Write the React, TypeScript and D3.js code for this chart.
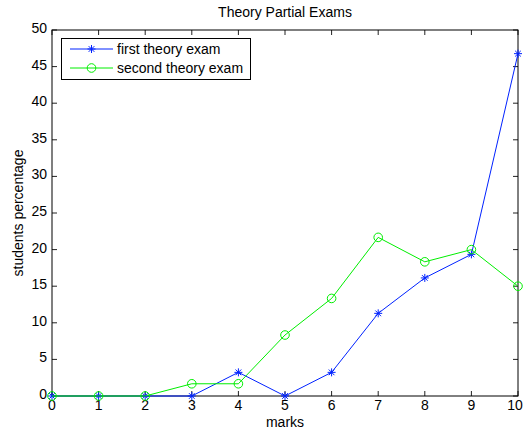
import React from 'react'
import * as d3 from 'd3'

// marks 0..10
const marks = [0, 1, 2, 3, 4, 5, 6, 7, 8, 9, 10]
const firstExam = [0, 0, 0, 0, 3.23, 0, 3.23, 11.29, 16.13, 19.35, 46.77]
const secondExam = [0, 0, 0, 1.67, 1.67, 8.33, 13.33, 21.67, 18.33, 20, 15]
const yTicks = [0, 5, 10, 15, 20, 25, 30, 35, 40, 45, 50]
const seriesNames = ['first theory exam', 'second theory exam']

const W = 524
const H = 429
const margin = { left: 52, right: 6, top: 30, bottom: 33 }
const font = 'Liberation Sans, Arial, sans-serif'
const fs = 14

function Star({ x, y, r, color }: { x: number; y: number; r: number; color: string }) {
  const d = Math.sqrt(0.5) * r
  return (
    <g stroke={color} strokeWidth={1}>
      <line x1={x - r} y1={y} x2={x + r} y2={y} />
      <line x1={x} y1={y - r} x2={x} y2={y + r} />
      <line x1={x - d} y1={y - d} x2={x + d} y2={y + d} />
      <line x1={x - d} y1={y + d} x2={x + d} y2={y - d} />
    </g>
  )
}

export default function App() {
  const x = d3.scaleLinear().domain([0, 10]).range([margin.left, W - margin.right])
  const y = d3.scaleLinear().domain([0, 50]).range([H - margin.bottom, margin.top])
  const line = d3.line<number>().x((_, i) => x(marks[i])).y(d => y(d))
  const x0 = x(0), x1 = x(10), y0 = y(0), y1 = y(50)
  const tick = 5
  const blue = '#0022ff'
  const green = '#00ee00'

  return (
    <svg width={W} height={H} style={{ position: 'absolute', left: 0, top: 0, background: '#fff' }} fontFamily={font}>
      <rect x={0} y={0} width={W} height={H} fill="#fff" />
      {/* ticks */}
      {marks.map(m => (
        <g key={'xt' + m} stroke="#222" strokeWidth={1}>
          <line x1={x(m)} x2={x(m)} y1={y0} y2={y0 - tick} />
          <line x1={x(m)} x2={x(m)} y1={y1} y2={y1 + tick} />
        </g>
      ))}
      {yTicks.map(t => (
        <g key={'yt' + t} stroke="#222" strokeWidth={1}>
          <line x1={x0} x2={x0 + tick} y1={y(t)} y2={y(t)} />
          <line x1={x1} x2={x1 - tick} y1={y(t)} y2={y(t)} />
        </g>
      ))}
      <rect x={x0} y={y1} width={x1 - x0} height={y0 - y1} fill="none" stroke="#000" strokeWidth={1} />
      {marks.map(m => (
        <text key={'xl' + m} x={Math.min(x(m), W - 9)} y={y0 + 14} fontSize={fs} textAnchor="middle" fill="#000">{m}</text>
      ))}
      {yTicks.map(t => (
        <text key={'yl' + t} x={x0 - 5} y={y(t) + 3} fontSize={fs} textAnchor="end" fill="#000">{t}</text>
      ))}
      <text x={(x0 + x1) / 2} y={17} fontSize={fs} textAnchor="middle" fill="#000">Theory Partial Exams</text>
      <text x={(x0 + x1) / 2} y={H - 2} fontSize={fs} textAnchor="middle" fill="#000">marks</text>
      <text transform={`translate(23,${(y0 + y1) / 2}) rotate(-90)`} fontSize={fs} textAnchor="middle" fill="#000">students percentage</text>

      {/* series */}
      <path d={line(firstExam) || ''} fill="none" stroke={blue} strokeWidth={1} />
      {firstExam.map((v, i) => <Star key={'s' + i} x={x(marks[i])} y={y(v)} r={4} color={blue} />)}
      <path d={line(secondExam) || ''} fill="none" stroke={green} strokeWidth={1} />
      {secondExam.map((v, i) => (
        <circle key={'c' + i} cx={x(marks[i])} cy={y(v)} r={4.3} fill="none" stroke={green} strokeWidth={1} />
      ))}

      {/* legend */}
      <rect x={61.5} y={38.5} width={189} height={41} fill="#fff" stroke="#000" strokeWidth={1} />
      <line x1={70} x2={113} y1={49} y2={49} stroke={blue} />
      <Star x={91.5} y={49} r={4} color={blue} />
      <text x={117} y={54} fontSize={fs} fill="#000">{seriesNames[0]}</text>
      <line x1={70} x2={113} y1={68} y2={68} stroke={green} />
      <circle cx={91.5} cy={68} r={4.3} fill="none" stroke={green} />
      <text x={117} y={73} fontSize={fs} fill="#000">{seriesNames[1]}</text>
    </svg>
  )
}
